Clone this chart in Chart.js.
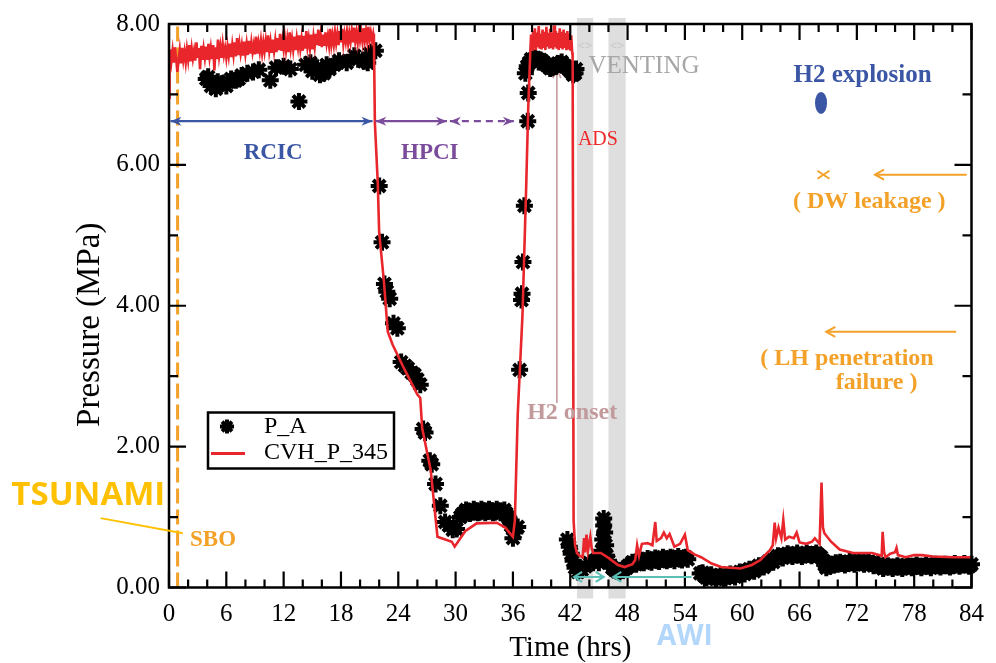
<!DOCTYPE html>
<html>
<head>
<meta charset="utf-8">
<title>Pressure vs Time</title>
<script src="https://cdn.jsdelivr.net/npm/chart.js@4.4.1/dist/chart.umd.min.js"></script>
<style>
html,body{margin:0;padding:0;background:#ffffff;}
#box{position:relative;width:996px;height:663px;}
</style>
</head>
<body>
<div id="box"><canvas id="chart" width="996" height="663"></canvas></div>
<script>
// ---------------- data (time in hrs, pressure in MPa) ----------------
const xTicks = [0, 6, 12, 18, 24, 30, 36, 42, 48, 54, 60, 66, 72, 78, 84];
const yTicks = [0, 2, 4, 6, 8];

// CVH_P_345 (red line), [time, pressure]
const cvhEarly = [
 [0,6.95],[0.06,7.50],
 [0.125,7.64],[0.25,7.47],[0.375,7.62],[0.5,7.45],[0.625,7.67],[0.75,7.50],[0.875,7.32],[1.0,7.48],
 [1.125,7.63],[1.25,7.44],[1.375,7.66],[1.5,7.49],[1.625,7.61],[1.75,7.46],[1.875,7.64],[2.0,7.50],
 [2.125,7.70],[2.25,7.47],[2.375,7.65],[2.5,7.51],[2.625,7.62],[2.75,7.48],[2.875,7.74],[3.0,7.52],
 [3.125,7.66],[3.25,7.36],[3.375,7.69],[3.5,7.49],[3.625,7.65],[3.75,7.52],[3.875,7.68],[4.0,7.49],
 [4.125,7.72],[4.25,7.53],[4.375,7.66],[4.5,7.50],[4.625,7.70],[4.75,7.34],[4.875,7.67],[5.0,7.50],
 [5.125,7.78],[5.25,7.55],[5.375,7.68],[5.5,7.52],[5.625,7.71],[5.75,7.56],[5.875,7.66],[6.0,7.52],
 [6.125,7.68],[6.25,7.55],[6.375,7.72],[6.5,7.53],[6.625,7.70],[6.75,7.56],[6.875,7.74],[7.0,7.54],
 [7.125,7.80],[7.25,7.56],[7.375,7.72],[7.5,7.58],[7.625,7.70],[7.75,7.55],[7.875,7.75],[8.0,7.58],
 [8.125,7.72],[8.25,7.56],[8.375,7.76],[8.5,7.58],[8.625,7.74],[8.75,7.60],[8.875,7.71],[9.0,7.57],
 [9.125,7.82],[9.25,7.58],[9.375,7.73],[9.5,7.61],[9.625,7.76],[9.75,7.59],[9.875,7.74],[10.0,7.61],
 [10.125,7.76],[10.25,7.60],[10.375,7.84],[10.5,7.62],[10.625,7.75],[10.75,7.59],[10.875,7.78],[11.0,7.62],
 [11.125,7.77],[11.25,7.60],[11.375,7.80],[11.5,7.63],[11.625,7.86],[11.75,7.62],[11.875,7.77],[12.0,7.64],
 [12.125,7.80],[12.25,7.63],[12.375,7.78],[12.5,7.60],[12.625,7.88],[12.75,7.66],[12.875,7.79],[13.0,7.64],
 [13.125,7.82],[13.25,7.63],[13.375,7.80],[13.5,7.67],[13.625,7.84],[13.75,7.65],[13.875,7.79],[14.0,7.62],
 [14.125,7.83],[14.25,7.65],[14.375,7.90],[14.5,7.68],[14.625,7.80],[14.75,7.66],[14.875,7.85],[15.0,7.64],
 [15.125,7.82],[15.25,7.68],[15.375,7.86],[15.5,7.70],[15.625,7.92],[15.75,7.69],[15.875,7.84],[16.0,7.67],
 [16.125,7.85],[16.25,7.69],[16.375,7.88],[16.5,7.72],[16.625,7.83],[16.75,7.70],[16.875,7.93],[17.0,7.71],
 [17.125,7.84],[17.25,7.71],[17.375,7.88],[17.5,7.73],[17.625,7.86],[17.75,7.70],[17.875,7.90],[18.0,7.74],
 [18.125,7.93],[18.25,7.72],[18.375,7.86],[18.5,7.75],[18.625,7.89],[18.75,7.73],[18.875,7.87],[19.0,7.75],
 [19.125,7.90],[19.25,7.74],[19.375,7.95],[19.5,7.76],[19.625,7.88],[19.75,7.74],[19.875,7.92],[20.0,7.77],
 [20.125,7.88],[20.25,7.75],[20.375,7.94],[20.5,7.77],[20.625,7.90],[20.75,7.76],[20.875,7.96],[21.0,7.78],
 [21.125,7.88],[21.25,7.77],[21.375,7.86],[21.45,7.78]
];
const cvhCycle = [
 [21.55,6.60],[21.85,5.75],[22.00,5.04],[22.50,4.34],[22.90,3.63],[23.40,3.45],[24.60,3.11],[26.00,2.74],[26.30,2.69],[26.50,2.26],
 [26.70,2.13],[27.40,1.66],[28.10,0.72],[29.60,0.65],[29.90,0.58],[31.00,0.80],[32.20,0.91],[34.30,0.92],[35.20,0.85],[36.00,0.72],
 [36.20,0.95],[36.50,2.45],[37.00,3.87],[37.40,5.75],[37.60,6.80],[37.80,7.55]
];
const cvhHigh = [
 [37.9,7.85],[38.0,7.64],[38.1,7.90],[38.2,7.66],[38.3,7.94],[38.4,7.63],[38.5,7.88],[38.6,7.67],[38.7,7.97],[38.8,7.65],
 [38.9,7.86],[39.0,7.64],[39.1,7.92],[39.2,7.66],[39.3,7.89],[39.4,7.63],[39.5,7.96],[39.6,7.68],[39.7,7.87],[39.8,7.65],
 [39.9,7.93],[40.0,7.66],[40.1,7.88],[40.2,7.64],[40.3,7.98],[40.4,7.67],[40.5,7.90],[40.6,7.65],[40.7,7.87],[40.8,7.63],
 [40.9,7.94],[41.0,7.66],[41.1,7.89],[41.2,7.64],[41.3,7.92],[41.4,7.66],[41.5,7.87],[41.6,7.63],[41.7,7.90],[41.8,7.64],
 [41.9,7.86],[42.0,7.62],[42.1,7.84],[42.2,7.60],[42.25,7.55]
];
const cvhLow = [
 [42.35,0.95],[42.50,0.60],[42.70,0.49],[43.00,0.45],[43.30,0.43],[43.45,0.70],[43.55,0.50],[43.70,0.75],[43.85,0.52],[44.10,0.72],
 [44.25,0.55],[44.40,0.49],[45.20,0.49],[46.00,0.42],[47.00,0.32],[47.70,0.29],[48.50,0.33],[48.80,0.39],[49.00,0.60],[49.20,0.45],
 [49.50,0.62],[50.10,0.63],[50.60,0.60],[50.90,0.93],[51.05,0.66],[51.50,0.70],[51.80,0.78],[52.10,0.70],[52.40,0.76],[52.90,0.58],
 [53.50,0.62],[54.00,0.75],[54.30,0.53],[55.00,0.47],[55.70,0.43],[56.80,0.34],[57.80,0.29],[59.80,0.27],[61.00,0.32],[61.90,0.39],
 [62.90,0.53],[63.20,0.60],[63.40,0.92],[63.55,0.70],[63.80,0.85],[64.10,0.70],[64.30,0.96],[64.50,0.68],[64.90,0.72],[65.40,0.70],
 [65.70,0.78],[66.00,0.64],[66.70,0.62],[67.30,0.65],[67.60,0.70],[68.10,0.62],[68.30,1.49],[68.45,0.85],[68.60,0.77],[69.30,0.65],
 [70.20,0.54],[71.60,0.49],[73.60,0.49],[74.60,0.45],[74.70,0.79],[74.85,0.50],[75.00,0.43],[75.50,0.48],[76.00,0.50],[76.15,0.56],
 [76.30,0.46],[77.10,0.43],[78.00,0.46],[78.80,0.46],[80.00,0.44],[82.00,0.43],[84.00,0.43]
];

// P_A (black asterisks), [time, pressure]
const paEarly = [
 [3.9,7.22],[4.1,7.25],[4.4,7.12],[4.9,7.08],[5.1,7.18],[5.5,7.15],[6.0,7.12],[6.2,7.18],[6.5,7.22],[7.0,7.20],
 [7.3,7.22],[7.6,7.27],[8.2,7.30],[8.8,7.32],[9.4,7.35],[10.6,7.20],[11.2,7.38],[12.0,7.40],[12.7,7.36],[13.6,6.90],
 [14.3,7.42],[14.8,7.45],[15.0,7.33],[15.5,7.38],[15.8,7.28],[16.2,7.30],[16.5,7.42],[16.8,7.36],[17.3,7.42],[17.8,7.48],
 [18.6,7.45],[19.4,7.55],[19.8,7.50],[20.4,7.47],[20.8,7.45],[21.0,7.58],[21.6,7.62]
];
const paDepress1 = [
 [22.0,5.70],[22.3,4.90],[22.55,4.31],[22.8,4.20],[23.1,4.10],[23.5,3.75],[23.9,3.68],[24.3,3.20],[24.7,3.15],[25.0,3.11],
 [25.4,3.05],[25.7,3.02],[26.0,2.95],[26.3,2.88],[26.6,2.25],[26.8,2.20],[27.3,1.80],[27.5,1.75],[27.9,1.47],[28.4,1.16],
 [28.9,0.93],[29.3,0.88],[29.7,0.82],[30.1,0.83],[30.5,1.00]
];
const paLowPlateau = [
 [30.7,1.04],[30.9,1.06],[31.1,1.10],[31.3,1.08],[31.5,1.05],[31.7,1.07],[31.9,1.11],[32.1,1.09],[32.3,1.06],[32.5,1.07],
 [32.7,1.11],[32.9,1.09],[33.1,1.06],[33.3,1.08],[33.5,1.11],[33.7,1.09],[33.9,1.06],[34.1,1.07],[34.3,1.11],[34.5,1.09],
 [34.7,1.06],[34.9,1.08],[35.1,1.10],[35.3,1.05],[35.5,1.00],[35.6,0.98],[35.8,0.88],[36.0,0.70],[36.2,0.78],[36.5,0.86]
];
const paRepress = [
 [36.7,3.09],[36.9,4.08],[36.95,4.17],[37.05,4.62],[37.2,5.42],[37.55,6.62],[37.6,7.02]
];
const paHighPlateau = [
 [37.3,7.30],[37.5,7.40],[37.7,7.45],[37.9,7.50],[38.1,7.48],[38.3,7.52],[38.5,7.50],[38.7,7.46],[38.9,7.49],[39.1,7.47],
 [39.3,7.44],[39.5,7.42],[39.7,7.40],[39.9,7.37],[40.1,7.38],[40.3,7.41],[40.5,7.40],[40.7,7.44],[40.9,7.43],[41.1,7.46],
 [41.3,7.42],[41.5,7.40],[41.7,7.38],[41.9,7.35],[42.1,7.32],[42.3,7.28],[42.5,7.30],[42.6,7.36]
];
const paAfterADS = [
 [41.7,0.68],[41.9,0.58],[42.1,0.48],[42.3,0.38],[42.5,0.28],[42.8,0.22],[43.2,0.25],[43.6,0.30],[44.0,0.35],[44.4,0.35],
 [44.8,0.40],[45.0,0.35],[45.2,0.42],[45.3,0.52],[45.4,0.68],[45.5,0.88],[45.5,0.98],[45.6,0.78],[45.7,0.60],[45.8,0.45],[46.0,0.38],
 [46.4,0.28],[46.65,0.25],[46.9,0.23],[47.15,0.22],[47.4,0.24],[47.65,0.26],
 [47.9,0.28],[48.1,0.31],[48.3,0.32],[48.5,0.36],[48.7,0.35],[48.9,0.33],[49.1,0.36],[49.3,0.39],[49.5,0.37],[49.7,0.35],
 [49.9,0.38],[50.1,0.41],[50.3,0.38],[50.5,0.36],[50.7,0.39],[50.9,0.42],[51.1,0.39],[51.3,0.37],[51.5,0.40],[51.7,0.43],
 [51.9,0.40],[52.1,0.38],[52.3,0.40],[52.5,0.43],[52.7,0.41],[52.9,0.38],[53.1,0.41],[53.3,0.44],[53.5,0.41],[53.7,0.39],
 [53.9,0.42],[54.1,0.43],[54.3,0.40]
];
const paLate = [
 [55.6,0.20],[55.85,0.21],[56.0,0.17],[56.25,0.14],[56.5,0.16],[56.75,0.18],[57.0,0.15],[57.25,0.12],[57.5,0.15],[57.75,0.17],
 [58.0,0.15],[58.25,0.13],[58.5,0.16],[58.75,0.19],[59.0,0.17],[59.25,0.15],[59.5,0.19],[59.75,0.22],[60.0,0.21],[60.25,0.19],
 [60.5,0.23],[60.75,0.26],[61.0,0.25],[61.25,0.23],[61.5,0.27],[61.75,0.31],[62.0,0.30],[62.25,0.29],[62.5,0.33],[62.75,0.37],
 [63.0,0.37],[63.25,0.36],[63.5,0.41],[63.75,0.45],[64.0,0.44],[64.25,0.42],[64.5,0.45],[64.75,0.48],[65.0,0.46],[65.25,0.44],
 [65.5,0.46],[65.75,0.49],[66.0,0.46],[66.25,0.44],[66.5,0.46],[66.75,0.49],[67.0,0.47],[67.25,0.45],[67.5,0.47],[67.75,0.49],
 [68.0,0.46],[68.25,0.43],[68.5,0.38],[68.65,0.32],[68.8,0.28],[69.0,0.31],[69.2,0.30],[69.4,0.33],[69.6,0.32],[69.8,0.35],
 [70.0,0.33],[70.25,0.36],[70.5,0.34],[70.75,0.32],[71.0,0.34],[71.25,0.37],[71.5,0.35],[71.75,0.33],[72.0,0.35],[72.25,0.38],
 [72.5,0.35],[72.75,0.33],[73.0,0.35],[73.25,0.37],[73.5,0.34],[73.75,0.31],[74.0,0.32],[74.25,0.34],[74.5,0.30],[74.75,0.27],
 [75.0,0.29],[75.25,0.31],[75.5,0.29],[75.75,0.27],[76.0,0.29],[76.25,0.31],[76.5,0.29],[76.75,0.27],[77.0,0.29],[77.25,0.32],
 [77.5,0.30],[77.75,0.28],[78.0,0.30],[78.25,0.32],[78.5,0.30],[78.75,0.28],[79.0,0.30],[79.25,0.32],[79.5,0.30],[79.75,0.28],
 [80.0,0.31],[80.25,0.33],[80.5,0.31],[80.75,0.29],[81.0,0.31],[81.25,0.33],[81.5,0.31],[81.75,0.29],[82.0,0.31],[82.25,0.34],
 [82.5,0.32],[82.75,0.30],[83.0,0.32],[83.25,0.34],[83.5,0.32],[83.75,0.30],[84.0,0.33]
];

// annotation anchors (data coordinates: hrs, MPa)
const ventBands = [[42.7, 44.4], [46.0, 47.8]];
const sboTime = 0.9;
const h2OnsetTime = 40.6;

// ---------------- styles ----------------
const SERIF = '"Liberation Serif","Times New Roman",serif';
const SANS = '"Open Sans","Noto Sans",sans-serif';
const RED = '#e8262b';
const ORANGE = '#f3a128';
const BLUE = '#3a56a5';
const PURPLE = '#7b4c9c';
const GREY = '#a6a6a6';
const ROSE = '#c39a9c';
const TEAL = '#5bbfb6';

function head(ctx, tx, ty, fx, fy, len, half, filled) {
  const ang = Math.atan2(ty - fy, tx - fx);
  const c = Math.cos(ang), s = Math.sin(ang);
  const bx = tx - len * c, by = ty - len * s;
  const px = -s * half, py = c * half;
  ctx.beginPath();
  if (filled) {
    ctx.moveTo(tx, ty);
    ctx.lineTo(bx + px, by + py);
    ctx.lineTo(tx - len * 0.7 * c, ty - len * 0.7 * s);
    ctx.lineTo(bx - px, by - py);
    ctx.closePath();
    ctx.fill();
  } else {
    ctx.moveTo(bx + px, by + py);
    ctx.lineTo(tx, ty);
    ctx.lineTo(bx - px, by - py);
    ctx.stroke();
  }
}
function arrow(ctx, x0, y0, x1, y1, o) {
  ctx.save();
  ctx.strokeStyle = o.color; ctx.fillStyle = o.color; ctx.lineWidth = o.width || 2;
  if (o.dash) ctx.setLineDash(o.dash);
  ctx.beginPath(); ctx.moveTo(x0, y0); ctx.lineTo(x1, y1); ctx.stroke();
  ctx.setLineDash([]);
  if (o.end) head(ctx, x1, y1, x0, y0, o.len || 11, o.half || 4.5, o.filled);
  if (o.start) head(ctx, x0, y0, x1, y1, o.len || 11, o.half || 4.5, o.filled);
  ctx.restore();
}
function text(ctx, str, x, y, font, color, align, base) {
  ctx.font = font; ctx.fillStyle = color;
  ctx.textAlign = align || 'left'; ctx.textBaseline = base || 'middle';
  ctx.fillText(str, x, y);
}

const overlay = {
  id: 'overlay',
  beforeDatasetsDraw(chart) {
    const { ctx, chartArea: a, scales: { x, y } } = chart;
    const X = v => x.getPixelForValue(v), Y = v => y.getPixelForValue(v);
    ctx.save();
    ctx.fillStyle = '#dedede';
    ventBands.forEach(([t0, t1]) => ctx.fillRect(X(t0), a.top - 6, X(t1) - X(t0), a.bottom - a.top + 17));
    ctx.strokeStyle = ORANGE; ctx.lineWidth = 3; ctx.setLineDash([15, 6]);
    ctx.beginPath(); ctx.moveTo(X(sboTime), a.bottom); ctx.lineTo(X(sboTime), a.top); ctx.stroke();
    ctx.setLineDash([]);
    arrow(ctx, X(h2OnsetTime), Y(2.62), X(h2OnsetTime), Y(7.36), { color: ROSE, width: 1.6, end: true, len: 9, half: 4, filled: false });
    ctx.restore();
  },
  afterDatasetsDraw(chart) {
    const { ctx, chartArea: a, scales: { x, y } } = chart;
    const X = v => x.getPixelForValue(v), Y = v => y.getPixelForValue(v);
    ctx.save();
    ctx.strokeStyle = '#000'; ctx.lineWidth = 2.5;
    ctx.strokeRect(a.left, a.top, a.right - a.left, a.bottom - a.top);
    ctx.lineWidth = 2.2; ctx.beginPath();
    for (let v = 0; v <= 84; v += 2) {
      const L = v % 6 === 0 ? 16 : 8, px = X(v);
      ctx.moveTo(px, a.bottom); ctx.lineTo(px, a.bottom - L);
      ctx.moveTo(px, a.top); ctx.lineTo(px, a.top + L);
    }
    for (let v = 0; v <= 8; v += 1) {
      const L = v % 2 === 0 ? 17 : 9, py = Y(v);
      ctx.moveTo(a.left, py); ctx.lineTo(a.left + L, py);
      ctx.moveTo(a.right, py); ctx.lineTo(a.right - L, py);
    }
    ctx.stroke();

    text(ctx, 'Time (hrs)', (a.left + a.right) / 2, a.bottom + 68.5, '29px ' + SERIF, '#000', 'center', 'alphabetic');
    ctx.save();
    ctx.translate(a.left - 79, (a.top + a.bottom) / 2 + 19);
    ctx.rotate(-Math.PI / 2);
    text(ctx, 'Pressure (MPa)', 0, 0, '33px ' + SERIF, '#000', 'center', 'middle');
    ctx.restore();

    arrow(ctx, X(0.15), Y(6.62), X(21.3), Y(6.62), { color: BLUE, width: 2.2, start: true, end: true, filled: true, len: 11, half: 4.5 });
    arrow(ctx, X(21.6), Y(6.62), X(29.1), Y(6.62), { color: PURPLE, width: 2.2, start: true, end: true, filled: true, len: 11, half: 4.5 });
    arrow(ctx, X(29.4), Y(6.62), X(36.1), Y(6.62), { color: PURPLE, width: 2.2, dash: [7, 5], start: true, end: true, filled: true, len: 11, half: 4.5 });
    text(ctx, 'RCIC', X(10.9), Y(6.17), 'bold 23px ' + SERIF, BLUE, 'center');
    text(ctx, 'HPCI', X(27.3), Y(6.17), 'bold 23px ' + SERIF, PURPLE, 'center');

    text(ctx, '<>', X(43.55), Y(7.68), '13px ' + SANS, '#c4c4c4', 'center');
    text(ctx, '<>', X(46.9), Y(7.68), '13px ' + SANS, '#c4c4c4', 'center');
    text(ctx, 'VENTING', X(43.9), Y(7.40), '25px ' + SERIF, GREY, 'left');
    text(ctx, 'ADS', X(42.8), Y(6.36), '20px ' + SERIF, '#ee2a2a', 'left');
    text(ctx, 'H2 onset', X(42.2), Y(2.48), 'bold 24px ' + SERIF, ROSE, 'center');

    text(ctx, 'H2 explosion', X(72.6), Y(7.27), 'bold 25px ' + SERIF, BLUE, 'center');
    ctx.fillStyle = BLUE;
    ctx.beginPath(); ctx.ellipse(X(68.25), Y(6.88), 6, 11, 0, 0, Math.PI * 2); ctx.fill();

    ctx.strokeStyle = ORANGE; ctx.lineWidth = 2;
    const cx = X(68.5), cy = Y(5.86);
    ctx.beginPath(); ctx.moveTo(cx - 6, cy - 4); ctx.lineTo(cx + 6, cy + 4); ctx.moveTo(cx - 6, cy + 4); ctx.lineTo(cx + 6, cy - 4); ctx.stroke();
    arrow(ctx, X(83.5), Y(5.86), X(73.9), Y(5.86), { color: ORANGE, width: 2, end: true, len: 9, half: 5 });
    text(ctx, '( DW leakage )', X(73.3), Y(5.47), 'bold 24px ' + SERIF, ORANGE, 'center');

    arrow(ctx, X(82.4), Y(3.63), X(68.8), Y(3.63), { color: ORANGE, width: 2, end: true, len: 9, half: 5 });
    text(ctx, '( LH penetration', X(61.9), Y(3.25), 'bold 24px ' + SERIF, ORANGE, 'left');
    text(ctx, 'failure )', X(69.8), Y(2.90), 'bold 24px ' + SERIF, ORANGE, 'left');

    text(ctx, 'SBO', X(2.2), Y(0.68), 'bold 23px ' + SERIF, ORANGE, 'left');
    ctx.strokeStyle = '#ffc000'; ctx.lineWidth = 2;
    ctx.beginPath(); ctx.moveTo(X(-7.15), Y(0.985)); ctx.lineTo(X(1.45), Y(0.77)); ctx.stroke();
    text(ctx, 'TSUNAMI', X(-16.5), Y(1.31), 'bold 33px ' + SANS, '#ffc000', 'left');

    arrow(ctx, X(42.4), Y(0.15), X(45.5), Y(0.15), { color: TEAL, width: 2, start: true, end: true, len: 8, half: 5 });
    arrow(ctx, X(54.7), Y(0.15), X(46.5), Y(0.15), { color: TEAL, width: 2, end: true, len: 8, half: 5 });
    text(ctx, 'AWI', X(54.0), Y(-0.70), 'bold 28px ' + SANS, '#b3d7fb', 'center');

    // legend
    const lx = a.left + 39, ly = a.top + 388.5, lw = 186, lh = 56;
    ctx.fillStyle = '#fff'; ctx.fillRect(lx, ly, lw, lh);
    ctx.strokeStyle = '#000'; ctx.lineWidth = 2.5; ctx.strokeRect(lx, ly, lw, lh);
    ctx.strokeStyle = '#000'; ctx.fillStyle = '#000'; ctx.lineWidth = 4;
    Chart.helpers.drawPoint(ctx, { pointStyle: 'star', radius: 7, borderWidth: 4, rotation: 0 }, lx + 19, ly + 14);
    ctx.strokeStyle = RED; ctx.lineWidth = 2.8;
    ctx.beginPath(); ctx.moveTo(lx + 3, ly + 41); ctx.lineTo(lx + 37, ly + 41); ctx.stroke();
    text(ctx, 'P_A', lx + 56, ly + 14, '24px ' + SERIF, '#000', 'left');
    text(ctx, 'CVH_P_345', lx + 56, ly + 40, '24px ' + SERIF, '#000', 'left');
    ctx.restore();
  }
};

const cvhAll = [].concat(cvhEarly, cvhCycle, cvhHigh, cvhLow);
const paAll = [].concat(paEarly, paDepress1, paLowPlateau, paRepress, paHighPlateau, paAfterADS, paLate);

const ctx = document.getElementById('chart').getContext('2d');
new Chart(ctx, {
  type: 'scatter',
  data: {
    datasets: [
      {
        label: 'CVH_P_345',
        data: cvhAll.map(([t, p]) => ({ x: t, y: p })),
        showLine: true,
        borderColor: RED,
        backgroundColor: RED,
        borderWidth: 2.6,
        pointRadius: 0,
        tension: 0,
        order: 0
      },
      {
        label: 'P_A',
        data: paAll.map(([t, p]) => ({ x: t, y: p })),
        showLine: false,
        pointStyle: 'star',
        pointRadius: 8.5,
        pointBorderWidth: 4,
        borderColor: '#000',
        backgroundColor: '#000',
        clip: false,
        order: 1
      }
    ]
  },
  options: {
    responsive: false,
    animation: false,
    devicePixelRatio: 1,
    layout: { padding: { top: 20.5, right: 16, left: 0, bottom: 0 } },
    plugins: { legend: { display: false }, tooltip: { enabled: false } },
    scales: {
      x: {
        type: 'linear', min: 0, max: 84,
        afterBuildTicks: s => { s.ticks = xTicks.map(v => ({ value: v })); },
        ticks: { color: '#000', font: { family: SERIF, size: 25 }, padding: 12, maxRotation: 0, autoSkip: false },
        grid: { display: false, drawTicks: false },
        border: { display: false },
        afterFit: s => { s.height = 75.5; }
      },
      y: {
        type: 'linear', min: 0, max: 8,
        afterBuildTicks: s => { s.ticks = yTicks.map(v => ({ value: v })); },
        ticks: { color: '#000', font: { family: SERIF, size: 25 }, padding: 9, callback: v => Number(v).toFixed(2) },
        grid: { display: false, drawTicks: false },
        border: { display: false },
        afterFit: s => { s.width = 169; }
      }
    }
  },
  plugins: [overlay]
});
</script>
</body>
</html>
